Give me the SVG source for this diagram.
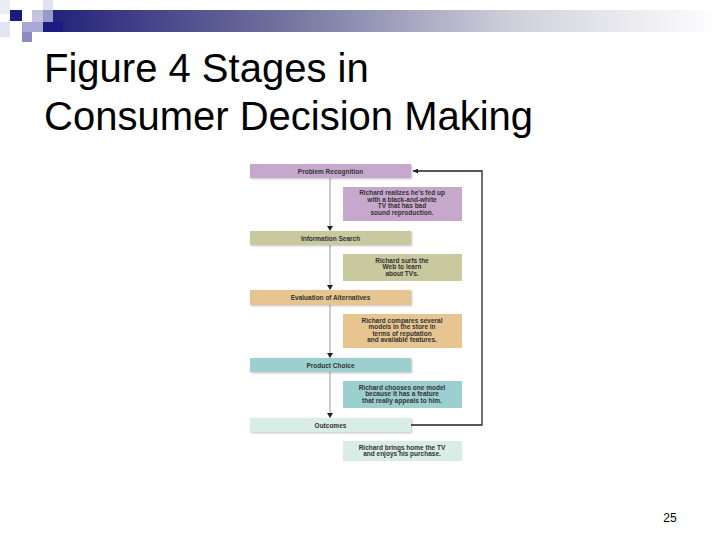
<svg xmlns="http://www.w3.org/2000/svg" width="720" height="540" viewBox="0 0 720 540">
<defs>
<linearGradient id="bar" x1="0" y1="0" x2="1" y2="0">
<stop offset="0" stop-color="#1c1c78"/>
<stop offset="0.35" stop-color="#6e6e9c"/>
<stop offset="0.7" stop-color="#d0d0dc"/>
<stop offset="1" stop-color="#ffffff"/>
</linearGradient>
<filter id="sh" x="-5%" y="-20%" width="110%" height="150%">
<feDropShadow dx="1" dy="1" stdDeviation="1" flood-color="#000" flood-opacity="0.25"/>
</filter>
<marker id="ah" viewBox="0 0 10 10" refX="10" refY="5" markerWidth="5" markerHeight="5" orient="auto" markerUnits="userSpaceOnUse">
<path d="M0,0 L10,5 L0,10 z" fill="#222"/>
</marker>
</defs>
<style>
.title{font-family:"Liberation Sans",Arial,sans-serif;font-size:40px;fill:#000}
.hd{font-family:"Liberation Sans",Arial,sans-serif;font-size:6.5px;font-weight:bold;fill:#333;text-anchor:middle}
.ds{font-family:"Liberation Sans",Arial,sans-serif;font-size:6.5px;font-weight:bold;fill:#333;text-anchor:middle}
.vline{stroke:#999;stroke-width:1;fill:none}
.fb{stroke:#222;stroke-width:1.3;fill:none}
</style>
<rect width="720" height="540" fill="#fff"/>
<!-- decoration -->
<g id="decor">
<rect x="32" y="10" width="688" height="22" fill="url(#bar)"/>
<rect x="0" y="0" width="10" height="14" fill="#ececf6"/>
<rect x="10" y="10" width="12" height="11" fill="#1c1c80"/>
<rect x="32" y="10" width="11" height="12" fill="#c4c4e2"/>
<rect x="43" y="0" width="10" height="10" fill="#e2e2f0"/>
<rect x="43" y="10" width="10" height="12" fill="#9a9ac8"/>
<rect x="43" y="22" width="20" height="10" fill="#1c1c80"/>
<rect x="22" y="22" width="21" height="10" fill="#a8a8d2"/>
<rect x="22" y="32" width="10" height="10" fill="#8c8cc0"/>
<rect x="0" y="22" width="10" height="15" fill="#e4e4f2"/>
</g>
<g id="title">
<text class="title" x="44" y="82">Figure 4 Stages in</text>
<text class="title" x="44" y="130">Consumer Decision Making</text>
</g>
<g id="connectors">
<line class="vline" x1="330" y1="178" x2="330" y2="227"/>
<line class="vline" x1="330" y1="245" x2="330" y2="286"/>
<line class="vline" x1="330" y1="305" x2="330" y2="354"/>
<line class="vline" x1="330" y1="372" x2="330" y2="414"/>
<path d="M327,226 L333,226 L330,231 z" fill="#222"/>
<path d="M327,285 L333,285 L330,290 z" fill="#222"/>
<path d="M327,353 L333,353 L330,358 z" fill="#222"/>
<path d="M327,413 L333,413 L330,418 z" fill="#222"/>
<polyline class="fb" points="411,425 482,425 482,171 413,171" marker-end="url(#ah)"/>
</g>
<g id="problem-recognition">
<rect x="250" y="164" width="161" height="14" fill="#c7a8cd" filter="url(#sh)"/>
<text class="hd" x="330.5" y="173.5">Problem Recognition</text>
</g>
<g id="desc-1">
<rect x="343" y="187" width="119" height="34" fill="#c7a8cd"/>
<text class="ds" x="402" y="195">Richard realizes he's fed up</text>
<text class="ds" x="402" y="201.5">with a black-and-white</text>
<text class="ds" x="402" y="208">TV that has bad</text>
<text class="ds" x="402" y="214.5">sound reproduction.</text>
</g>
<g id="information-search">
<rect x="250" y="231" width="161" height="14" fill="#c9c99f" filter="url(#sh)"/>
<text class="hd" x="330.5" y="240.5">Information Search</text>
</g>
<g id="desc-2">
<rect x="343" y="254" width="119" height="27" fill="#c9c99f"/>
<text class="ds" x="402" y="262.5">Richard surfs the</text>
<text class="ds" x="402" y="269">Web to learn</text>
<text class="ds" x="402" y="275.5">about TVs.</text>
</g>
<g id="evaluation">
<rect x="250" y="290" width="161" height="15" fill="#e6c590" filter="url(#sh)"/>
<text class="hd" x="330.5" y="300">Evaluation of Alternatives</text>
</g>
<g id="desc-3">
<rect x="343" y="314" width="119" height="34" fill="#e6c590"/>
<text class="ds" x="402" y="322.5">Richard compares several</text>
<text class="ds" x="402" y="329">models in the store in</text>
<text class="ds" x="402" y="335.5">terms of reputation</text>
<text class="ds" x="402" y="342">and available features.</text>
</g>
<g id="product-choice">
<rect x="250" y="358" width="161" height="14" fill="#9ccfd0" filter="url(#sh)"/>
<text class="hd" x="330.5" y="367.5">Product Choice</text>
</g>
<g id="desc-4">
<rect x="343" y="381" width="119" height="27" fill="#9ccfd0"/>
<text class="ds" x="402" y="389.5">Richard chooses one model</text>
<text class="ds" x="402" y="396">because it has a feature</text>
<text class="ds" x="402" y="402.5">that really appeals to him.</text>
</g>
<g id="outcomes">
<rect x="250" y="418" width="161" height="14" fill="#d9ede6" filter="url(#sh)"/>
<text class="hd" x="330.5" y="427.5">Outcomes</text>
</g>
<g id="desc-5">
<rect x="343" y="441" width="119" height="20" fill="#d9ede6"/>
<text class="ds" x="402" y="449.5">Richard brings home the TV</text>
<text class="ds" x="402" y="456">and enjoys his purchase.</text>
</g>
<text x="670" y="522" font-family="'Liberation Sans',Arial,sans-serif" font-size="12" fill="#000" text-anchor="middle">25</text>
</svg>
